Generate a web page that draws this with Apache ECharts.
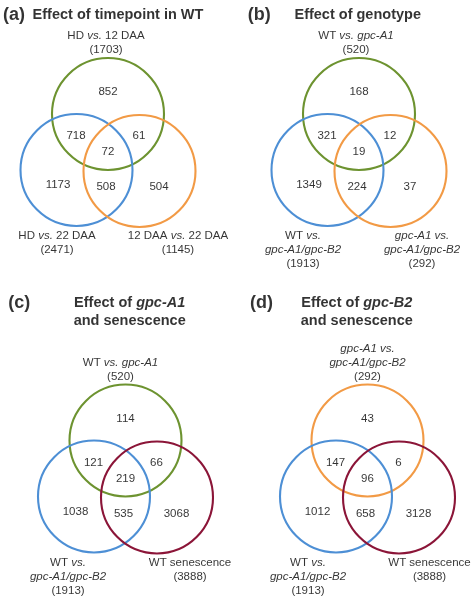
<!DOCTYPE html>
<html>
<head>
<meta charset="utf-8">
<script src="https://cdn.jsdelivr.net/npm/echarts@6/dist/echarts.min.js"></script>
<style>
html,body{margin:0;padding:0;background:#fff;}
#chart{width:472px;height:598px;}
</style>
</head>
<body>
<div id="chart"></div>
<script>
// ---------------- DATA ----------------
const panelLetters = ['(a)', '(b)', '(c)', '(d)'];
const panelTitles = [
  'Effect of timepoint in WT',
  'Effect of genotype',
  'Effect of {bi|gpc-A1}\nand senescence',
  'Effect of {bi|gpc-B2}\nand senescence'
];
// set order in each panel: [top, bottom-left, bottom-right]
const setNamesA = ['HD {i|vs.} 12 DAA', 'HD {i|vs.} 22 DAA', '12 DAA {i|vs.} 22 DAA'];
const setNamesB = ['WT {i|vs. gpc-A1}', 'WT {i|vs.}\n{i|gpc-A1/gpc-B2}', '{i|gpc-A1 vs.}\n{i|gpc-A1/gpc-B2}'];
const setNamesC = ['WT {i|vs. gpc-A1}', 'WT {i|vs.}\n{i|gpc-A1/gpc-B2}', 'WT senescence'];
const setNamesD = ['{i|gpc-A1 vs.}\n{i|gpc-A1/gpc-B2}', 'WT {i|vs.}\n{i|gpc-A1/gpc-B2}', 'WT senescence'];
const setTotalsA = [1703, 2471, 1145];
const setTotalsB = [520, 1913, 292];
const setTotalsC = [520, 1913, 3888];
const setTotalsD = [292, 1913, 3888];
// region counts: [top only, top&left, top&right, all three, left only, left&right, right only]
const regionsA = [852, 718, 61, 72, 1173, 508, 504];
const regionsB = [168, 321, 12, 19, 1349, 224, 37];
const regionsC = [114, 121, 66, 219, 1038, 535, 3068];
const regionsD = [43, 147, 6, 96, 1012, 658, 3128];

// ---------------- STYLE / LAYOUT ----------------
const GREEN = '#6d9330', BLUE = '#4d8fd5', ORANGE = '#f29a45', MAROON = '#8b1538';
const panelColors = [[GREEN, BLUE, ORANGE], [GREEN, BLUE, ORANGE], [GREEN, BLUE, MAROON], [ORANGE, BLUE, MAROON]];
const panelOrigin = [[0, 0], [236, 0], [0, 299], [236, 299]];
const PW = 236, PH = 299;
const topCircle = [[108, 114], [123, 114], [125.5, 141.5], [131.5, 141.5]];
const circleOffsets = [[0, 0], [-31.5, 56], [31.5, 57]];
const R = 56;
const regionOffsets = [[0, -22], [-32, 22], [31, 22], [0, 38], [-50, 71], [-2, 73], [51, 73]];
const topLabelDx = [-2, -3, -5, 0];
const leftLabelDx = [-51, -56, -57.5, -59.5];
const rightLabelDx = [70, 63, 64.5, 62];
const letterPos = [[3, 15], [11.7, 15], [8.3, 4.3], [14, 4]];
const titlePos = [[118, 15], [121.7, 15], [129.7, 12.8], [120.8, 12.8]];

const FONT = '"Liberation Sans", Arial, Helvetica, sans-serif';
const TXT = '#000';

const setNames = [setNamesA, setNamesB, setNamesC, setNamesD];
const setTotals = [setTotalsA, setTotalsB, setTotalsC, setTotalsD];
const regions = [regionsA, regionsB, regionsC, regionsD];

const grids = [], xAxes = [], yAxes = [], series = [];
for (let p = 0; p < 4; p++) {
  grids.push({left: panelOrigin[p][0], top: panelOrigin[p][1], width: PW, height: PH, containLabel: false});
  xAxes.push({gridIndex: p, type: 'value', min: 0, max: PW, show: false});
  yAxes.push({gridIndex: p, type: 'value', min: 0, max: PH, inverse: true, show: false});
  const [tx, ty] = topCircle[p];
  const cols = panelColors[p];

  // circles
  series.push({
    type: 'custom', xAxisIndex: p, yAxisIndex: p, silent: true, clip: false,
    data: circleOffsets.map((o, i) => [tx + o[0], ty + o[1], R, i]),
    renderItem: function (params, api) {
      const c = api.coord([api.value(0), api.value(1)]);
      const r = api.size([api.value(2), 0])[0];
      return {type: 'circle', shape: {cx: c[0], cy: c[1], r: r},
        style: {fill: null, stroke: cols[api.value(3)], lineWidth: 2.1}};
    }
  });

  // region counts
  series.push({
    type: 'scatter', xAxisIndex: p, yAxisIndex: p, symbolSize: 0, silent: true,
    data: regions[p].map((v, i) => ({value: [tx + regionOffsets[i][0], ty + regionOffsets[i][1]], name: String(v)})),
    label: {show: true, position: 'inside', formatter: (d) => d.name,
      fontFamily: FONT, fontSize: 11.5, color: TXT}
  });

  // set labels
  const names = setNames[p], tots = setTotals[p];
  const richI = {i: {fontStyle: 'italic', fontFamily: FONT, fontSize: 11.5, color: TXT, lineHeight: 14}};
  const lbl = (k) => names[k] + '\n(' + tots[k] + ')';
  series.push({
    type: 'scatter', xAxisIndex: p, yAxisIndex: p, symbolSize: 0, silent: true,
    data: [
      {value: [tx + topLabelDx[p], ty - 57], name: lbl(0), label: {position: 'top'}},
      {value: [tx + leftLabelDx[p], ty + 115], name: lbl(1), label: {position: 'bottom'}},
      {value: [tx + rightLabelDx[p], ty + 115], name: lbl(2), label: {position: 'bottom'}}
    ],
    label: {show: true, distance: 0, formatter: (d) => d.name, align: 'center',
      fontFamily: FONT, fontSize: 11.5, color: TXT, lineHeight: 14, rich: richI}
  });

  // panel letter and title
  series.push({
    type: 'scatter', xAxisIndex: p, yAxisIndex: p, symbolSize: 0, silent: true,
    data: [
      {value: letterPos[p], name: panelLetters[p],
        label: {position: 'right', distance: 0, fontSize: 18, align: 'left'}},
      {value: titlePos[p], name: panelTitles[p],
        label: {position: 'inside', fontSize: 14.5, align: 'center', lineHeight: 17.7}}
    ],
    label: {show: true, formatter: (d) => d.name, fontFamily: FONT, fontWeight: 'bold', color: TXT,
      rich: {bi: {fontStyle: 'italic', fontWeight: 'bold', fontFamily: FONT, fontSize: 14.5, color: TXT, lineHeight: 17.7}}}
  });
}

const chart = echarts.init(document.getElementById('chart'), null, {renderer: 'canvas'});
chart.setOption({
  animation: false,
  backgroundColor: '#ffffff',
  grid: grids, xAxis: xAxes, yAxis: yAxes, series: series
});
</script>
</body>
</html>
